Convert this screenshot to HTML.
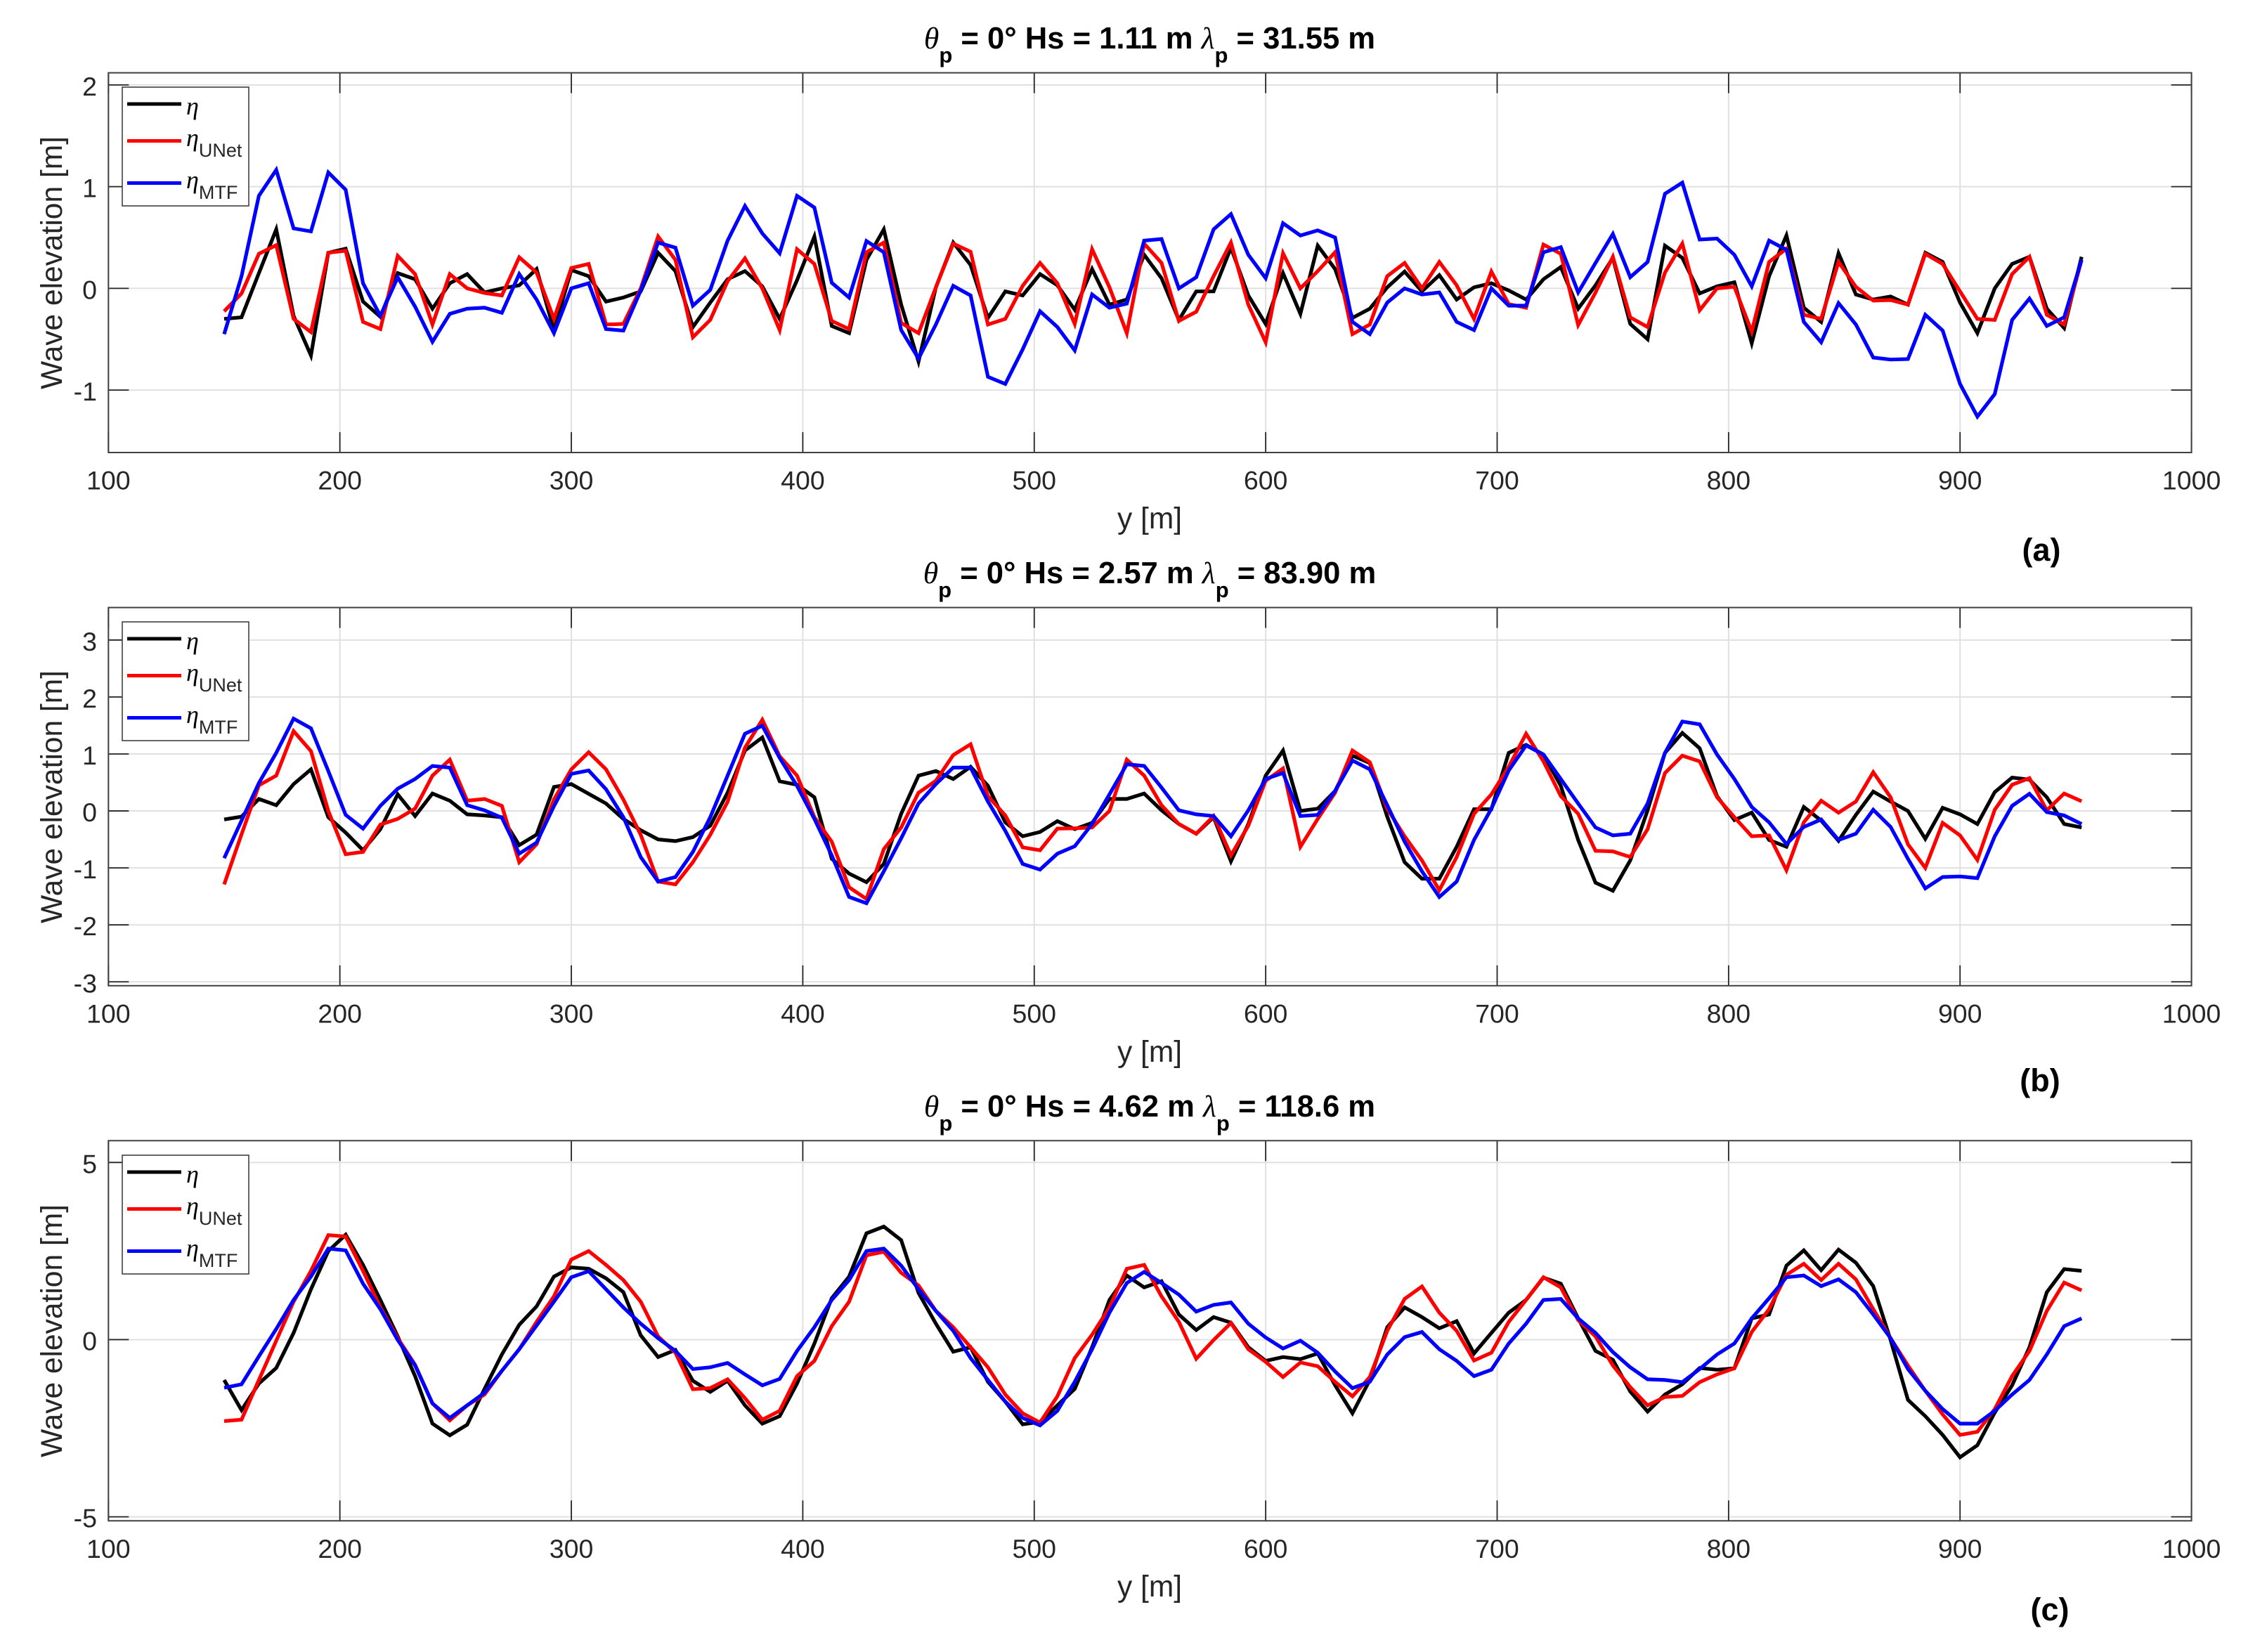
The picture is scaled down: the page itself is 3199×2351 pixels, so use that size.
<!DOCTYPE html>
<html lang="en">
<head>
<meta charset="utf-8">
<title>Wave elevation comparison</title>
<style>
html,body{margin:0;padding:0;background:#fff;}
svg{display:block;}
text{font-family:"Liberation Sans",sans-serif;fill:#262626;}
.title{font-size:43.6px;font-weight:bold;fill:#000;}
.title .greek{font-family:"Liberation Serif",serif;font-style:italic;font-weight:normal;}
.title .sub{font-size:31px;}
.axis-label{font-size:42.5px;}
.tag{font-size:45px;font-weight:bold;fill:#000;}
.leg-eta{font-family:"Liberation Serif",serif;font-style:italic;font-size:36px;fill:#000;}
.leg-sub{font-size:27px;}
</style>
</head>
<body>
<svg xmlns="http://www.w3.org/2000/svg" width="3199" height="2351" viewBox="0 0 3199 2351">
  <rect width="3199" height="2351" fill="#fff"/>

  <g id="plot-a"></g>
  <g>
    <text class="title" x="1636" y="69" text-anchor="middle" xml:space="preserve"><tspan class="greek">θ</tspan><tspan class="sub" dy="20">p</tspan><tspan dy="-20"> = 0° Hs = 1.11 m </tspan><tspan class="greek">λ</tspan><tspan class="sub" dy="20">p</tspan><tspan dy="-20"> = 31.55 m</tspan></text>
    <text class="axis-label" x="1636" y="752" text-anchor="middle">y [m]</text>
    <text class="axis-label" transform="translate(88 374) rotate(-90)" text-anchor="middle">Wave elevation [m]</text>
    <text class="tag" x="2905" y="798" text-anchor="middle">(a)</text>
    <g transform="translate(174 124)">
      <rect x="0" y="0" width="180" height="169" fill="#fff" stroke="#404040" stroke-width="1.6"/>
      <line x1="7" x2="84" y1="24" y2="24" stroke="#000" stroke-width="5"/>
      <line x1="7" x2="84" y1="76.5" y2="76.5" stroke="#f00" stroke-width="5"/>
      <line x1="7" x2="84" y1="136.5" y2="136.5" stroke="#00f" stroke-width="5"/>
      <text class="leg-eta" x="91" y="39">η</text>
      <text x="91" y="84"><tspan class="leg-eta">η</tspan><tspan class="leg-sub" dy="15">UNet</tspan></text>
      <text x="91" y="144"><tspan class="leg-eta">η</tspan><tspan class="leg-sub" dy="15">MTF</tspan></text>
    </g>
  </g>

  <g id="plot-b"></g>
  <g>
    <text class="title" x="1636" y="830" text-anchor="middle" xml:space="preserve"><tspan class="greek">θ</tspan><tspan class="sub" dy="20">p</tspan><tspan dy="-20"> = 0° Hs = 2.57 m </tspan><tspan class="greek">λ</tspan><tspan class="sub" dy="20">p</tspan><tspan dy="-20"> = 83.90 m</tspan></text>
    <text class="axis-label" x="1636" y="1511" text-anchor="middle">y [m]</text>
    <text class="axis-label" transform="translate(88 1134) rotate(-90)" text-anchor="middle">Wave elevation [m]</text>
    <text class="tag" x="2903" y="1553" text-anchor="middle">(b)</text>
    <g transform="translate(174 885)">
      <rect x="0" y="0" width="180" height="169" fill="#fff" stroke="#404040" stroke-width="1.6"/>
      <line x1="7" x2="84" y1="24" y2="24" stroke="#000" stroke-width="5"/>
      <line x1="7" x2="84" y1="76.5" y2="76.5" stroke="#f00" stroke-width="5"/>
      <line x1="7" x2="84" y1="136.5" y2="136.5" stroke="#00f" stroke-width="5"/>
      <text class="leg-eta" x="91" y="39">η</text>
      <text x="91" y="84"><tspan class="leg-eta">η</tspan><tspan class="leg-sub" dy="15">UNet</tspan></text>
      <text x="91" y="144"><tspan class="leg-eta">η</tspan><tspan class="leg-sub" dy="15">MTF</tspan></text>
    </g>
  </g>

  <g id="plot-c"></g>
  <g>
    <text class="title" x="1636" y="1589" text-anchor="middle" xml:space="preserve"><tspan class="greek">θ</tspan><tspan class="sub" dy="20">p</tspan><tspan dy="-20"> = 0° Hs = 4.62 m </tspan><tspan class="greek">λ</tspan><tspan class="sub" dy="20">p</tspan><tspan dy="-20"> = 118.6 m</tspan></text>
    <text class="axis-label" x="1636" y="2272" text-anchor="middle">y [m]</text>
    <text class="axis-label" transform="translate(88 1894) rotate(-90)" text-anchor="middle">Wave elevation [m]</text>
    <text class="tag" x="2917" y="2306" text-anchor="middle">(c)</text>
    <g transform="translate(174 1644)">
      <rect x="0" y="0" width="180" height="169" fill="#fff" stroke="#404040" stroke-width="1.6"/>
      <line x1="7" x2="84" y1="24" y2="24" stroke="#000" stroke-width="5"/>
      <line x1="7" x2="84" y1="76.5" y2="76.5" stroke="#f00" stroke-width="5"/>
      <line x1="7" x2="84" y1="136.5" y2="136.5" stroke="#00f" stroke-width="5"/>
      <text class="leg-eta" x="91" y="39">η</text>
      <text x="91" y="84"><tspan class="leg-eta">η</tspan><tspan class="leg-sub" dy="15">UNet</tspan></text>
      <text x="91" y="144"><tspan class="leg-eta">η</tspan><tspan class="leg-sub" dy="15">MTF</tspan></text>
    </g>
  </g>
</svg>

<script>
const yPositions = [150,157.5,165,172.5,180,187.5,195,202.5,210,217.5,225,232.5,240,247.5,255,262.5,270,277.5,285,292.5,300,307.5,315,322.5,330,337.5,345,352.5,360,367.5,375,382.5,390,397.5,405,412.5,420,427.5,435,442.5,450,457.5,465,472.5,480,487.5,495,502.5,510,517.5,525,532.5,540,547.5,555,562.5,570,577.5,585,592.5,600,607.5,615,622.5,630,637.5,645,652.5,660,667.5,675,682.5,690,697.5,705,712.5,720,727.5,735,742.5,750,757.5,765,772.5,780,787.5,795,802.5,810,817.5,825,832.5,840,847.5,855,862.5,870,877.5,885,892.5,900,907.5,915,922.5,930,937.5,945,952.5];
const xTicks = [100,200,300,400,500,600,700,800,900,1000];
const xDomain = [100,1000];

const yTicksA = [-1,0,1,2];
const yDomainA = [-1.614,2.1195];
const etaA = [-0.30,-0.285,0.15,0.58,-0.27,-0.66,0.35,0.39,-0.13,-0.28,
0.15,0.09,-0.20,0.05,0.14,-0.04,0,0.03,0.19,-0.41,
0.18,0.12,-0.13,-0.09,-0.03,0.35,0.17,-0.38,-0.14,0.09,
0.17,0.02,-0.30,0.08,0.51,-0.37,-0.44,0.28,0.58,-0.16,
-0.72,0.01,0.45,0.23,-0.29,-0.03,-0.07,0.14,0.03,-0.21,
0.19,-0.16,-0.11,0.33,0.10,-0.31,-0.03,-0.03,0.40,-0.07,
-0.35,0.15,-0.25,0.42,0.19,-0.29,-0.20,0.01,0.165,-0.03,
0.13,-0.11,0.01,0.05,-0.02,-0.11,0.09,0.21,-0.20,0.03,
0.30,-0.35,-0.50,0.42,0.30,-0.05,0.02,0.06,-0.54,0.12,
0.52,-0.19,-0.33,0.345,-0.06,-0.11,-0.08,-0.16,0.35,0.26,
-0.14,-0.44,0.0,0.24,0.31,-0.20,-0.39,0.31];
const unetA = [-0.225,-0.05,0.34,0.425,-0.30,-0.43,0.35,0.37,-0.33,-0.40,
0.32,0.14,-0.355,0.14,0,-0.045,-0.07,0.305,0.155,-0.30,
0.20,0.24,-0.355,-0.35,0,0.51,0.28,-0.48,-0.31,0.07,
0.295,0,-0.41,0.385,0.24,-0.32,-0.40,0.355,0.45,-0.34,
-0.44,0.01,0.44,0.36,-0.355,-0.30,0.025,0.25,0.05,-0.35,
0.385,0.01,-0.44,0.44,0.25,-0.32,-0.23,0.12,0.45,-0.16,
-0.53,0.345,0,0.17,0.355,-0.45,-0.355,0.12,0.25,0,
0.26,0.03,-0.30,0.165,-0.155,-0.19,0.43,0.34,-0.36,-0.04,
0.31,-0.285,-0.38,0.155,0.44,-0.215,0,0.015,-0.425,0.26,
0.39,-0.26,-0.30,0.26,0.015,-0.12,-0.115,-0.16,0.34,0.24,
-0.03,-0.30,-0.31,0.14,0.31,-0.26,-0.355,0.28];
const mtfA = [-0.45,0.12,0.91,1.165,0.59,0.56,1.14,0.97,0.05,-0.27,
0.11,-0.18,-0.525,-0.25,-0.20,-0.19,-0.24,0.14,-0.11,-0.44,
0,0.05,-0.40,-0.415,-0.02,0.45,0.40,-0.17,-0.015,0.47,
0.81,0.54,0.345,0.91,0.795,0.055,-0.09,0.465,0.355,-0.41,
-0.69,-0.355,0.025,-0.07,-0.87,-0.94,-0.60,-0.225,-0.38,-0.61,
-0.06,-0.19,-0.15,0.47,0.485,0,0.11,0.58,0.73,0.33,
0.10,0.64,0.52,0.57,0.50,-0.33,-0.45,-0.14,0,-0.06,
-0.04,-0.33,-0.41,0,-0.17,-0.17,0.355,0.405,-0.04,0.25,
0.535,0.11,0.26,0.93,1.04,0.48,0.49,0.33,0.02,0.47,
0.38,-0.33,-0.53,-0.145,-0.355,-0.68,-0.70,-0.695,-0.26,-0.415,
-0.94,-1.26,-1.04,-0.31,-0.10,-0.37,-0.285,0.28];

const yTicksB = [-3,-2,-1,0,1,2,3];
const yDomainB = [-3.068,3.57];
const etaB = [-0.15,-0.10,0.21,0.10,0.47,0.73,-0.11,-0.38,-0.69,-0.32,
0.29,-0.09,0.305,0.18,-0.06,-0.08,-0.11,-0.60,-0.415,0.42,
0.47,0.30,0.13,-0.14,-0.34,-0.50,-0.53,-0.46,-0.26,0.32,
1.06,1.29,0.52,0.46,0.24,-0.84,-1.10,-1.25,-0.93,-0.05,
0.62,0.70,0.56,0.775,0.44,-0.20,-0.445,-0.37,-0.18,-0.32,
-0.21,0.21,0.21,0.305,0.01,-0.23,-0.40,-0.11,-0.885,-0.23,
0.62,1.06,0,0.04,0.35,0.97,0.84,-0.10,-0.90,-1.19,
-1.19,-0.63,0.03,0.03,1.02,1.16,0.99,0.44,-0.51,-1.26,
-1.40,-0.87,0.01,1.02,1.37,1.10,0.26,-0.16,-0.03,-0.51,
-0.63,0.07,-0.17,-0.525,-0.07,0.34,0.165,0,-0.49,0.055,
-0.06,-0.23,0.33,0.585,0.55,0.24,-0.23,-0.29];
const unetB = [-1.29,-0.41,0.45,0.62,1.40,1.05,0,-0.76,-0.72,-0.24,
-0.14,0.04,0.62,0.90,0.18,0.21,0.09,-0.90,-0.585,0.2,
0.73,1.03,0.73,0.2,-0.42,-1.24,-1.29,-0.90,-0.42,0.16,
1.11,1.60,0.96,0.62,-0.11,-0.54,-1.34,-1.545,-0.67,-0.29,
0.32,0.53,0.98,1.17,0.26,-0.08,-0.64,-0.69,-0.31,-0.305,
-0.29,0,0.90,0.62,0.10,-0.23,-0.40,-0.09,-0.78,-0.26,
0.53,0.745,-0.63,-0.14,0.32,1.06,0.855,0.04,-0.445,-0.87,
-1.39,-0.81,-0.05,0.29,0.775,1.355,0.87,0.26,-0.05,-0.70,
-0.71,-0.81,-0.32,0.665,0.97,0.87,0.24,-0.11,-0.445,-0.43,
-1.04,-0.20,0.18,-0.03,0.165,0.68,0.24,-0.585,-1.00,-0.21,
-0.43,-0.86,0.02,0.46,0.575,0.01,0.305,0.17];
const mtfB = [-0.83,-0.17,0.49,1.02,1.62,1.45,0.70,-0.07,-0.31,0.09,
0.39,0.56,0.79,0.76,0.10,0.01,-0.12,-0.75,-0.555,0.085,
0.65,0.71,0.38,-0.11,-0.81,-1.24,-1.16,-0.72,-0.11,0.62,
1.355,1.495,0.93,0.44,-0.14,-0.78,-1.51,-1.62,-1.06,-0.48,
0.13,0.47,0.76,0.76,0.165,-0.35,-0.93,-1.03,-0.75,-0.62,
-0.23,0.29,0.82,0.79,0.41,0.01,-0.06,-0.09,-0.445,0.01,
0.56,0.665,-0.09,-0.07,0.35,0.885,0.73,0.10,-0.54,-1.06,
-1.51,-1.24,-0.51,0.04,0.71,1.15,0.99,0.56,0.13,-0.29,
-0.43,-0.40,0.13,1.02,1.57,1.52,0.99,0.56,0.07,-0.20,
-0.58,-0.28,-0.15,-0.51,-0.40,0.02,-0.28,-0.84,-1.36,-1.16,
-1.15,-1.18,-0.445,0.09,0.30,-0.02,-0.08,-0.23];

const yTicksC = [-5,0,5];
const yDomainC = [-5.113,5.615];
const etaC = [-1.14,-1.99,-1.24,-0.80,0.19,1.42,2.5,2.96,2.11,1.12,
0.09,-1.03,-2.37,-2.70,-2.40,-1.39,-0.42,0.42,0.94,1.78,
2.04,2.0,1.73,1.34,0.12,-0.49,-0.29,-1.16,-1.475,-1.16,
-1.855,-2.37,-2.16,-1.24,-0.11,1.17,1.78,3.00,3.19,2.81,
1.32,0.45,-0.34,-0.215,-1.19,-1.75,-2.39,-2.32,-1.855,-1.39,
-0.215,1.12,1.81,1.475,1.65,0.71,0.27,0.635,0.48,-0.215,
-0.60,-0.49,-0.55,-0.39,-1.29,-2.08,-1.14,0.35,0.91,0.635,
0.32,0.52,-0.39,0.19,0.76,1.12,1.75,1.58,0.60,-0.32,
-0.57,-1.465,-2.03,-1.55,-1.26,-0.80,-0.85,-0.81,0.60,0.71,
2.09,2.52,1.96,2.54,2.17,1.51,-0.01,-1.70,-2.16,-2.69,
-3.32,-2.98,-2.06,-1.29,-0.215,1.34,1.99,1.94];
const unetC = [-2.30,-2.26,-1.14,-0.03,1.07,1.94,2.95,2.91,1.94,0.91,
0.04,-0.71,-1.80,-2.28,-1.855,-1.55,-0.88,-0.27,0.50,1.22,
2.26,2.5,2.11,1.68,1.07,0.09,-0.37,-1.40,-1.37,-1.12,
-1.65,-2.26,-2.01,-1.03,-0.60,0.38,1.07,2.38,2.48,1.885,
1.53,0.81,0.35,-0.215,-0.78,-1.55,-2.08,-2.34,-1.60,-0.52,
0.14,0.91,2.0,2.11,1.22,0.50,-0.54,-0.01,0.47,-0.27,
-0.625,-1.055,-0.645,-0.75,-1.19,-1.60,-1.055,0.25,1.15,1.50,
0.76,0.25,-0.59,-0.37,0.50,1.12,1.76,1.475,0.55,0.09,
-0.73,-1.34,-1.855,-1.62,-1.59,-1.20,-0.98,-0.81,0.215,0.86,
1.83,2.14,1.68,2.14,1.70,0.86,0.04,-0.73,-1.445,-2.11,
-2.69,-2.60,-1.96,-1.03,-0.32,0.81,1.61,1.39];
const mtfC = [-1.36,-1.26,-0.47,0.30,1.12,1.78,2.57,2.52,1.58,0.86,
-0.01,-0.73,-1.80,-2.21,-1.855,-1.50,-0.88,-0.27,0.40,1.07,
1.76,1.93,1.42,0.91,0.45,0.04,-0.32,-0.83,-0.78,-0.66,
-0.98,-1.29,-1.11,-0.32,0.35,1.12,1.68,2.5,2.57,2.09,
1.42,0.81,0.25,-0.52,-1.14,-1.75,-2.21,-2.42,-2.01,-1.19,
-0.27,0.76,1.60,1.91,1.60,1.27,0.79,0.98,1.05,0.45,
0.06,-0.25,-0.03,-0.37,-0.90,-1.37,-1.19,-0.42,0.07,0.215,
-0.27,-0.60,-1.03,-0.85,-0.11,0.45,1.12,1.15,0.60,0.19,
-0.35,-0.78,-1.12,-1.14,-1.20,-0.83,-0.42,-0.11,0.60,1.17,
1.76,1.81,1.51,1.70,1.34,0.71,0.04,-0.83,-1.445,-1.96,
-2.37,-2.37,-2.01,-1.55,-1.14,-0.42,0.38,0.60];

const NS = 'http://www.w3.org/2000/svg';
const INK = '#262626';
const GRID = '#e0e0e0';
const FRAME_LEFT = 154.3;
const FRAME_RIGHT = 3118.6;

function line(parent, x1, y1, x2, y2, color, width) {
  const el = document.createElementNS(NS, 'line');
  el.setAttribute('x1', x1);
  el.setAttribute('y1', y1);
  el.setAttribute('x2', x2);
  el.setAttribute('y2', y2);
  el.setAttribute('stroke', color);
  el.setAttribute('stroke-width', width);
  parent.appendChild(el);
  return el;
}

function tickLabel(parent, x, y, anchor, str) {
  const el = document.createElementNS(NS, 'text');
  el.setAttribute('x', x);
  el.setAttribute('y', y);
  el.setAttribute('text-anchor', anchor);
  el.setAttribute('font-size', '37.5');
  el.textContent = str;
  parent.appendChild(el);
  return el;
}

function drawPanel(id, top, bottom, yDomain, yTicks, eta, unet, mtf) {
  const g = document.getElementById(id);
  const sx = v => FRAME_LEFT + (v - xDomain[0]) / (xDomain[1] - xDomain[0]) * (FRAME_RIGHT - FRAME_LEFT);
  const sy = v => bottom - (v - yDomain[0]) / (yDomain[1] - yDomain[0]) * (bottom - top);

  xTicks.forEach(t => {
    const gl = line(g, sx(t), top, sx(t), bottom, GRID, 2);
    
    
  });
  yTicks.forEach(t => {
    const gl = line(g, FRAME_LEFT, sy(t), FRAME_RIGHT, sy(t), GRID, 2);
    
    
  });

  xTicks.forEach(t => {
    const a = line(g, sx(t), bottom, sx(t), bottom - 29, INK, 1.8);
    
    
    const b = line(g, sx(t), top, sx(t), top + 29, INK, 1.8);
    
    
    const lab = tickLabel(g, sx(t), bottom + 52.5, 'middle', String(t));
    
    
  });
  yTicks.forEach(t => {
    const a = line(g, FRAME_LEFT, sy(t), FRAME_LEFT + 29, sy(t), INK, 1.8);
    
    
    const b = line(g, FRAME_RIGHT, sy(t), FRAME_RIGHT - 29, sy(t), INK, 1.8);
    
    
    const lab = tickLabel(g, 138, sy(t) + 15, 'end', String(t));
    
    
  });

  const box = document.createElementNS(NS, 'rect');
  box.setAttribute('x', FRAME_LEFT);
  box.setAttribute('y', top);
  box.setAttribute('width', FRAME_RIGHT - FRAME_LEFT);
  box.setAttribute('height', bottom - top);
  box.setAttribute('fill', 'none');
  box.setAttribute('stroke', '#404040');
  box.setAttribute('stroke-width', '2');
  
  
  g.appendChild(box);

  const series = [[eta, '#000000', 'series-eta'], [unet, '#ff0000', 'series-unet'], [mtf, '#0000ff', 'series-mtf']];
  series.forEach(s => {
    const p = document.createElementNS(NS, 'polyline');
    p.setAttribute('points', s[0].map((v, i) => sx(yPositions[i]).toFixed(1) + ',' + sy(v).toFixed(1)).join(' '));
    p.setAttribute('fill', 'none');
    p.setAttribute('stroke', s[1]);
    p.setAttribute('stroke-width', '5.2');
    p.setAttribute('stroke-linejoin', 'miter');
    
    
    g.appendChild(p);
  });
}

drawPanel('plot-a', 103.6, 644, yDomainA, yTicksA, etaA, unetA, mtfA);
drawPanel('plot-b', 864.6, 1402.8, yDomainB, yTicksB, etaB, unetB, mtfB);
drawPanel('plot-c', 1623.3, 2164.3, yDomainC, yTicksC, etaC, unetC, mtfC);
</script>
</body>
</html>
